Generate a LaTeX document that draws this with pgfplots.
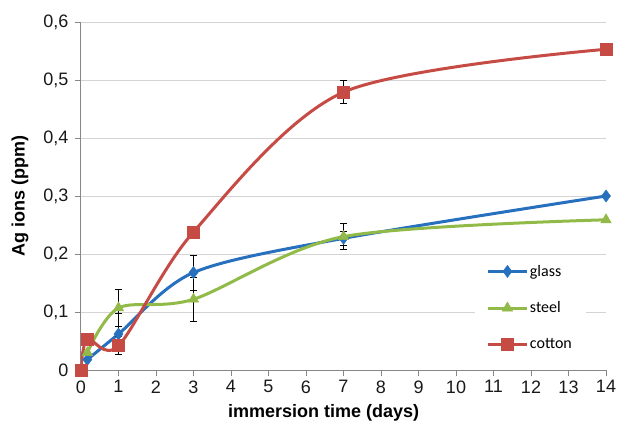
\documentclass[border=0pt]{standalone}
\usepackage{pgfplots}
\pgfplotsset{compat=1.18}
\usepackage{fontspec}
\setmainfont{Liberation Sans}
\newfontfamily\legfont{Carlito}
\definecolor{cblue}{RGB}{38,112,190}
\definecolor{cgreen}{RGB}{146,186,72}
\definecolor{cred}{RGB}{198,75,68}
\definecolor{gridc}{RGB}{212,212,212}
\definecolor{axc}{RGB}{135,135,135}
\begin{document}
\begin{tikzpicture}
\useasboundingbox (-81pt,-54pt) rectangle (536pt,370pt);
\begin{axis}[
  at={(0,0)}, anchor=south west,
  scale only axis, width=525pt, height=348pt,
  xmin=0, xmax=14, ymin=0, ymax=0.6,
  xtick={0,...,14}, ytick={0,0.1,...,0.6},
  axis x line*=bottom, axis y line*=left,
  axis line style={axc, line width=1pt},
  tick style={axc, line width=1pt},
  tick align=outside, major tick length=6pt,
  ymajorgrids, grid style={gridc, line width=1pt},
  /pgf/number format/.cd, use comma, fixed, precision=1, assume math mode=true,
  /pgfplots/.cd,
  ticklabel style={font=\fontsize{18}{21}\selectfont, text=black!90},
  yticklabel style={xshift=-3pt},
  xticklabel style={yshift=-1pt},
  xlabel={\textbf{immersion time (days)}},
  ylabel={\textbf{Ag ions (ppm)}},
  every axis x label/.style={at={(axis description cs:0.462,-0.124)}, anchor=center, font=\fontsize{18}{21}\selectfont},
  every axis y label/.style={at={(axis description cs:-0.116,0.5)}, rotate=90, anchor=center, font=\fontsize{18}{21}\selectfont},
  legend style={draw=none, fill=white, at={(0.75,0.325)}, anchor=north west,
    font=\legfont\fontsize{16}{19}\selectfont, row sep=20pt, inner xsep=12pt, inner ysep=6pt},
  legend cell align=left,
  legend image code/.code={\draw[mark repeat=2,mark phase=2] plot coordinates {(0pt,0pt) (19pt,0pt) (38pt,0pt)};},
  every axis plot/.append style={line width=3pt, smooth, tension=0.5},
  error bars/error bar style={black, line width=0.9pt},
  error bars/error mark options={black, rotate=90, mark size=3.5pt, line width=0.9pt},
]
\addplot[cblue, mark=diamond*, mark size=6pt, mark options={fill=cblue, line width=0.5pt},
  error bars/.cd, y dir=both, y explicit]
  coordinates {(0.17,0.018) +- (0,0) (1,0.062) +- (0,0.035) (3,0.168) +- (0,0.030) (7,0.227) +- (0,0.012) (14,0.300) +- (0,0)};
\addlegendentry{glass}
\addplot[cgreen, mark=triangle*, mark size=6pt, mark options={fill=cgreen, line width=0.5pt},
  error bars/.cd, y dir=both, y explicit]
  coordinates {(0.17,0.030) +- (0,0) (1,0.107) +- (0,0.032) (3,0.122) +- (0,0.038) (7,0.230) +- (0,0.023) (14,0.259) +- (0,0)};
\addlegendentry{steel}
\addplot[cred, mark=square*, mark size=6pt, mark options={fill=cred, line width=0.5pt},
  error bars/.cd, y dir=both, y explicit]
  coordinates {(0,0) +- (0,0) (0.17,0.053) +- (0,0) (1,0.042) +- (0,0.015) (3,0.238) +- (0,0) (7,0.479) +- (0,0.020) (14,0.553) +- (0,0)};
\addlegendentry{cotton}
\end{axis}
\end{tikzpicture}
\end{document}
